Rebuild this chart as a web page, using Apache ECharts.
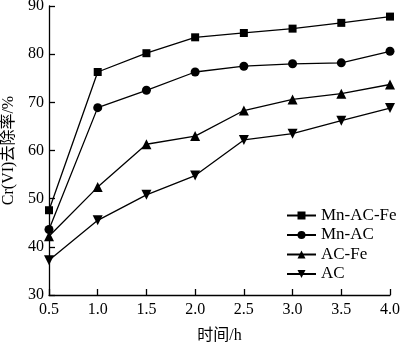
<!DOCTYPE html>
<html><head><meta charset="utf-8">
<script src="https://cdn.jsdelivr.net/npm/echarts@6/dist/echarts.min.js"></script>
<style>html,body{margin:0;padding:0;background:#fff}#c{width:400px;height:343px}</style>
</head><body><div id="c"></div>
<script>
const times = [0.5, 1.0, 1.5, 2.0, 2.5, 3.0, 3.5, 4.0];
const seriesNames = ['Mn-AC-Fe', 'Mn-AC', 'AC-Fe', 'AC'];
const mnAcFe = [47.6, 76.3, 80.2, 83.5, 84.4, 85.3, 86.5, 87.8];
const mnAc = [43.6, 68.9, 72.5, 76.3, 77.5, 78.0, 78.2, 80.6];
const acFe = [42.2, 52.4, 61.3, 63.0, 68.3, 70.6, 71.8, 73.7];
const ac = [37.2, 45.5, 50.8, 54.8, 62.2, 63.5, 66.2, 68.8];
const yTicks = [30, 40, 50, 60, 70, 80, 90];
const xTicks = times;

const font = 'Liberation Serif, "Noto Sans CJK SC", serif';
const symbols = ['rect', 'circle', 'triangle', 'path://M0,0 L10,0 L5,10 Z'];
const sizes = [8, 9, 10, 10];
const values = [mnAcFe, mnAc, acFe, ac];

const chart = echarts.init(document.getElementById('c'));
chart.setOption({
  animation: false,
  backgroundColor: '#fff',
  grid: { left: 49, right: 10, top: 6, bottom: 48, containLabel: false, outerBoundsMode: 'none' },
  xAxis: {
    type: 'value', min: xTicks[0], max: xTicks[xTicks.length - 1], interval: 0.5,
    name: '时间/h', nameLocation: 'middle', nameGap: 33,
    nameTextStyle: { fontFamily: font, fontSize: 16, color: '#000' },
    axisLine: { lineStyle: { color: '#000', width: 1.3 } },
    axisTick: { inside: true, length: 6, lineStyle: { color: '#000', width: 1.3 } },
    axisLabel: { fontFamily: font, fontSize: 16, color: '#000', margin: 7, formatter: v => v.toFixed(1) },
    splitLine: { show: false }
  },
  yAxis: {
    type: 'value', min: yTicks[0], max: yTicks[yTicks.length - 1], interval: 10,
    name: 'Cr(VI)去除率/%', nameLocation: 'middle', nameGap: 32, nameRotate: 90,
    nameMoveOverlap: false,
    nameTextStyle: { fontFamily: font, fontSize: 16, color: '#000' },
    axisLine: { show: true, lineStyle: { color: '#000', width: 1.3 } },
    axisTick: { show: true, inside: true, length: 6, lineStyle: { color: '#000', width: 1.3 } },
    axisLabel: { fontFamily: font, fontSize: 16, color: '#000', margin: 5 },
    splitLine: { show: false }
  },
  legend: {
    orient: 'vertical', left: 281, top: 202, padding: 5,
    itemWidth: 29, itemHeight: 10, itemGap: 2.5,
    textStyle: { fontFamily: font, fontSize: 17, color: '#000' },
    data: seriesNames
  },
  series: seriesNames.map((n, i) => ({
    name: n, type: 'line',
    data: times.map((t, j) => [t, values[i][j]]),
    symbol: symbols[i], symbolSize: sizes[i],
    lineStyle: { color: '#000', width: 1.3 },
    itemStyle: { color: '#000' }
  }))
});
</script>
</body></html>
